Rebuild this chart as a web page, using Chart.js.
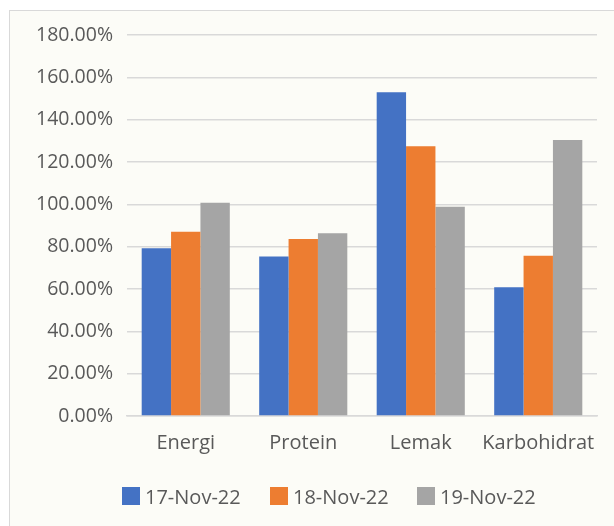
<!DOCTYPE html>
<html>
<head>
<meta charset="utf-8">
<script src="https://cdn.jsdelivr.net/npm/chart.js@4/dist/chart.umd.min.js"></script>
<style>
  html, body { margin: 0; padding: 0; background: #ffffff; }
  #wrap { position: relative; width: 614px; height: 526px; overflow: hidden; }
  #frame { position: absolute; left: 9px; top: 10px; width: 605px; height: 516px;
           border-left: 1px solid #d9d9d9; border-top: 1px solid #d9d9d9; background: #fcfcf7; }
  #c { position: absolute; left: 0; top: 0; }
  #legend { position: absolute; left: 0; top: 484px; width: 614px; height: 24px;
            font-family: 'Open Sans', sans-serif; font-size: 20px; color: #595959; }
  .item { position: absolute; top: 0; display: flex; align-items: center; height: 24px; white-space: nowrap; }
  .box { width: 18px; height: 18px; margin-right: 5px; }
</style>
</head>
<body>
<div id="wrap">
  <div id="frame"></div>
  <canvas id="c" width="614" height="526"></canvas>
  <div id="legend"></div>
</div>
<script>
const categories = ["Energi", "Protein", "Lemak", "Karbohidrat"];
const seriesNames = ["17-Nov-22", "18-Nov-22", "19-Nov-22"];
const nov17 = [79.2, 75.3, 152.9, 60.8];
const nov18 = [87.1, 83.6, 127.5, 75.7];
const nov19 = [100.8, 86.3, 98.9, 130.4];
const yMax = 180;
const yStep = 20;
const colors = ["#4472C4", "#ED7D31", "#A5A5A5"];

const textColor = "#595959";
const fontFamily = "'Open Sans', sans-serif";

const chart = new Chart(document.getElementById('c'), {
  type: 'bar',
  data: {
    labels: categories,
    datasets: [nov17, nov18, nov19].map((d, i) => ({
      label: seriesNames[i],
      data: d,
      backgroundColor: colors[i],
      borderWidth: 0,
      categoryPercentage: 0.75,
      barPercentage: 1.0
    }))
  },
  options: {
    responsive: false,
    animation: false,
    layout: { padding: { left: 20, right: 17, top: 35, bottom: 71 } },
    plugins: {
      tooltip: { enabled: false },
      legend: { display: false }
    },
    scales: {
      x: {
        afterFit: (s) => { s.height = 39; },
        grid: { display: false, drawTicks: false },
        border: { display: true, color: '#d9d9d9', width: 1.5 },
        ticks: { color: textColor, font: { family: fontFamily, size: 20 }, padding: 15,
                 maxRotation: 0, minRotation: 0, autoSkip: false }
      },
      y: {
        min: 0, max: yMax,
        afterFit: (s) => { s.width = 107; },
        grid: { color: '#d9d9d9', lineWidth: 1.5, drawTicks: false },
        border: { display: false },
        ticks: {
          stepSize: yStep,
          color: textColor,
          font: { family: fontFamily, size: 19.5 },
          padding: 14,
          callback: (v) => Number(v).toFixed(2) + '%'
        }
      }
    }
  }
});

// HTML legend built from the chart's datasets
const legendPos = [122, 270, 417];
const legendEl = document.getElementById('legend');
chart.data.datasets.forEach((ds, i) => {
  const item = document.createElement('div');
  item.className = 'item';
  item.style.left = legendPos[i] + 'px';
  const box = document.createElement('span');
  box.className = 'box';
  box.style.background = ds.backgroundColor;
  const txt = document.createElement('span');
  txt.textContent = ds.label;
  item.appendChild(box);
  item.appendChild(txt);
  legendEl.appendChild(item);
});
</script>
</body>
</html>
